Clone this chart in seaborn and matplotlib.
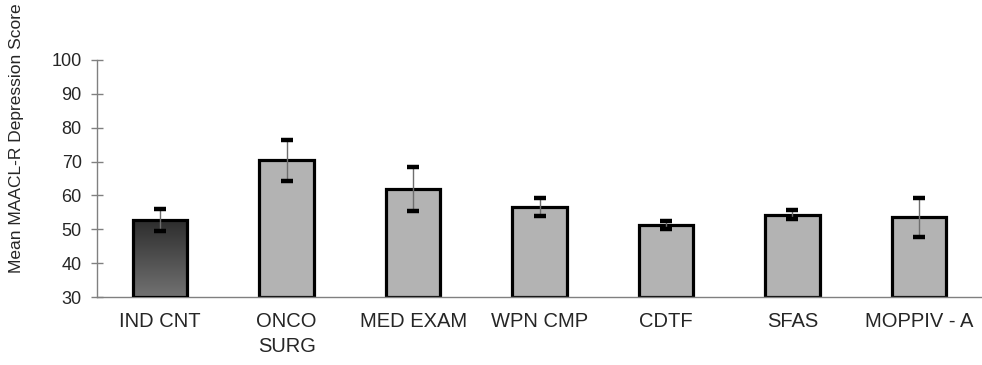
import numpy as np
import pandas as pd
import matplotlib.pyplot as plt
import seaborn as sns

groups = ["IND CNT", "ONCO\nSURG", "MED EXAM", "WPN CMP", "CDTF", "SFAS", "MOPPIV - A"]
means = [52.8, 70.4, 61.9, 56.5, 51.3, 54.3, 53.5]
errs = [3.2, 6.1, 6.4, 2.7, 1.2, 1.3, 5.8]
yticks = [30, 40, 50, 60, 70, 80, 90, 100]

df = pd.DataFrame({"group": groups, "score": means})

sns.set_style("white")
plt.rcParams["font.family"] = ["Liberation Sans", "DejaVu Sans"]

fig = plt.figure(figsize=(9.82, 3.65), dpi=100)
ax = fig.add_axes([97 / 982, 1 - 297 / 365, 885 / 982, 237 / 365])

sns.barplot(data=df, x="group", y="score", color="#b3b3b3", width=0.43,
            edgecolor="black", linewidth=2.3, saturation=1, ax=ax, zorder=2)

ax.set_ylim(30, 100)
ax.set_xlim(-0.5, len(groups) - 0.5)

# bars start at the axis floor so their bottom edge shows
for p in ax.patches:
    top = p.get_y() + p.get_height()
    p.set_y(30)
    p.set_height(top - 30)

# dark gradient on the first bar
p0 = ax.patches[0]
grad = np.linspace(0, 1, 256).reshape(-1, 1)
cmap = plt.matplotlib.colors.LinearSegmentedColormap.from_list("g", ["#727272", "#2c2c2c"])
im = ax.imshow(grad, cmap=cmap, aspect="auto",
               extent=[p0.get_x(), p0.get_x() + p0.get_width(),
                       p0.get_y() + p0.get_height(), p0.get_y()],
               zorder=2.5)
im.set_clip_path(p0)
p0.set_zorder(3)
p0.set_facecolor("none")
ax.set_xlim(-0.5, len(groups) - 0.5)
ax.set_ylim(30, 100)

xs = [p.get_x() + p.get_width() / 2 for p in ax.patches]
_, caps, lines = ax.errorbar(xs, means, yerr=errs, fmt="none", ecolor="#6e6e6e",
                             elinewidth=1, capsize=4.5, capthick=3.2, zorder=4)
for c in caps:
    c.set_markeredgecolor("black")
    c.set_markerfacecolor("black")
    c.set_zorder(5)

ax.set_yticks(yticks)
ax.set_xticks(np.arange(len(groups)))
ax.set_xticklabels(groups, linespacing=1.4)
ax.set_xticks(np.arange(len(groups) - 1) + 0.5, minor=True)
ax.tick_params(axis="x", which="major", length=0, pad=11, labelsize=14.5)
ax.tick_params(axis="x", which="minor", direction="inout", length=8, width=1, color="#808080")
ax.tick_params(axis="y", direction="inout", length=8, width=1, color="#808080",
               labelsize=13, pad=7, left=True)

for s in ["top", "right"]:
    ax.spines[s].set_visible(False)
for s in ["left", "bottom"]:
    ax.spines[s].set_color("#808080")
    ax.spines[s].set_linewidth(1)

ax.set_xlabel("")
ax.set_ylabel("Mean MAACL-R Depression Score", fontsize=12.5)
ax.yaxis.set_label_coords(-0.082, 0.671)

fig.savefig("out.png", dpi=100)
